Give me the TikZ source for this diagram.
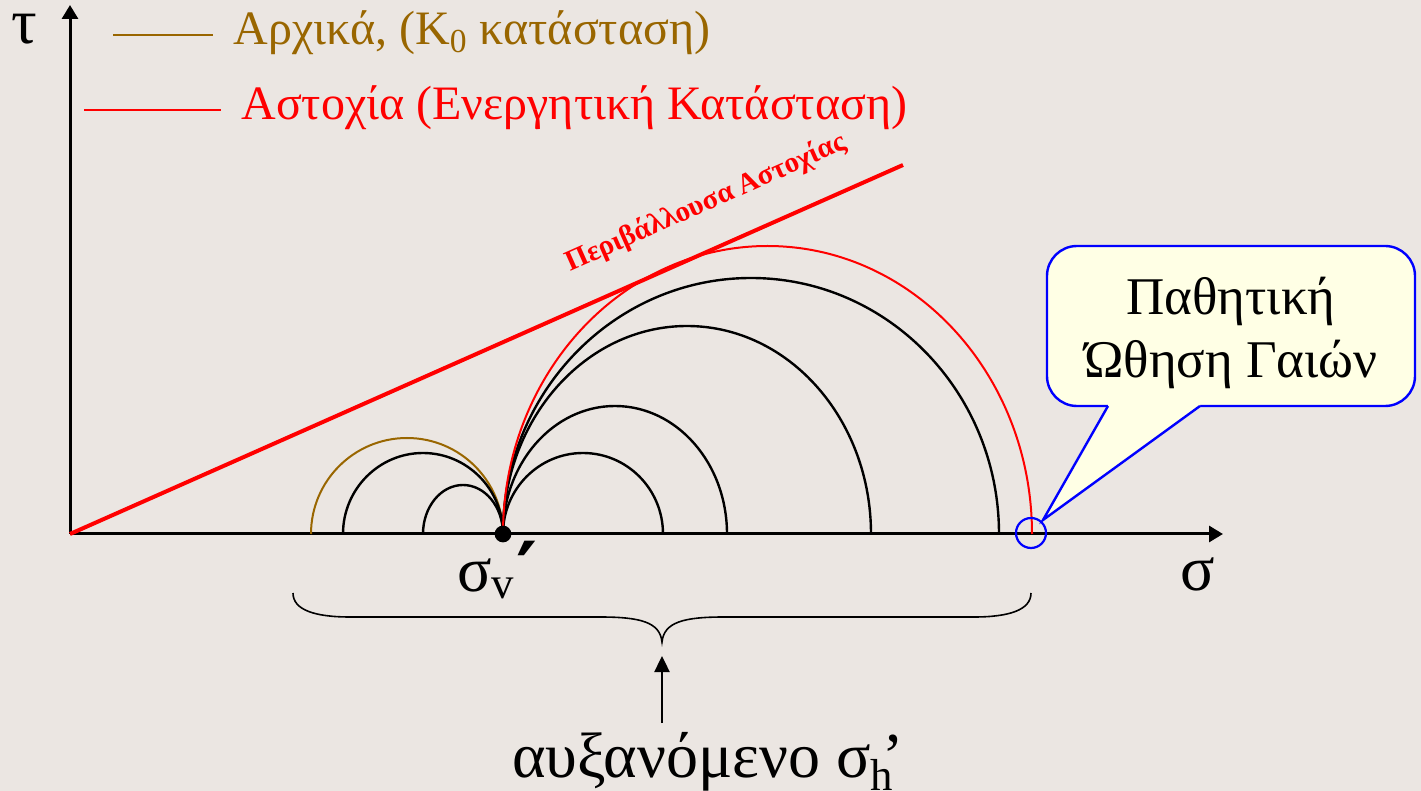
\documentclass[tikz,border=0pt]{standalone}
\usepackage{fontspec}
\setmainfont{Liberation Serif}
\newfontfamily\djv{DejaVu Sans}
\usetikzlibrary{arrows.meta}
\definecolor{bgc}{RGB}{235,230,226}
\definecolor{brn}{RGB}{153,102,0}
\definecolor{callfill}{RGB}{255,255,229}
\tikzset{
  axisline/.style={line width=1.5pt, -{Triangle[length=7pt,width=8pt]}},
  blackarc/.style={line width=1.2pt, black},
  redarc/.style={line width=1pt, red},
  brownarc/.style={line width=1pt, brn},
  legline/.style={line width=1pt},
  bigtxt/.style={font=\fontsize{32}{38}\selectfont},
  midtxt/.style={font=\fontsize{24}{29}\selectfont},
  calltxt/.style={font=\fontsize{26.5}{31}\selectfont},
  envtxt/.style={font=\fontsize{14.5}{17}\selectfont\bfseries, text=red},
  calloutbox/.style={draw=blue, fill=callfill, line width=1.2pt, rounded corners=15pt, rectangle, minimum width=184pt, minimum height=80pt, inner sep=0pt},
}
\begin{document}
\begin{tikzpicture}[x=0.5pt,y=-0.5pt]
\fill[bgc] (0,0) rectangle (1421,791);
\useasboundingbox (0,0) rectangle (1421,791);

% coordinates
\coordinate (O) at (70,534);
\coordinate (tauTip) at (70,5);
\coordinate (sigTip) at (1223,534);
\coordinate (envEnd) at (903,165);
\coordinate (V) at (503,534);

% axes
\draw[axisline] (O) -- (tauTip);
\draw[axisline] (O) -- (sigTip);

% envelope
\draw[red, line width=2pt] (O) -- (envEnd);

% left arcs (start at V, go left)
\draw[brownarc] (V) arc[start angle=0, end angle=180, x radius=48pt, y radius=48pt];
\draw[blackarc] (V) arc[start angle=0, end angle=180, x radius=40pt, y radius=40.5pt];
\draw[blackarc] (V) arc[start angle=0, end angle=180, x radius=20pt, y radius=24.5pt];

% right arcs (start at V, go right)
\draw[blackarc] (V) arc[start angle=180, end angle=0, x radius=40pt, y radius=40.5pt];
\draw[blackarc] (V) arc[start angle=180, end angle=0, x radius=56pt, y radius=64pt];
\draw[blackarc] (V) arc[start angle=180, end angle=0, x radius=92pt, y radius=104pt];
\draw[blackarc] (V) arc[start angle=180, end angle=0, x radius=124pt, y radius=128pt];
\draw[redarc] (V) arc[start angle=180, end angle=0, x radius=132.25pt, y radius=144pt];

% point sigma_v'
\fill[black] (V) circle[radius=4.2pt];

% envelope label
\node[envtxt, rotate=24] (envlbl) at (706,203) {Περιβάλλουσα Αστοχίας};

% legend
\coordinate (l1a) at (113,35);
\coordinate (l1b) at (213,35);
\draw[brn, legline] (l1a) -- (l1b);
\node[midtxt, text=brn, anchor=base west, inner sep=0pt] (leg1) at (233,45) {Αρχικά, (K\textsubscript{0} κατάσταση)};
\coordinate (l2a) at (84,110);
\coordinate (l2b) at (221,110);
\draw[red, legline] (l2a) -- (l2b);
\node[midtxt, text=red, anchor=base west, inner sep=0pt] (leg2) at (241,120) {Αστοχία (Ενεργητική Κατάσταση)};

% axis labels
\node[bigtxt, anchor=base, inner sep=0pt] (tau) at (24,44) {τ};
\node[bigtxt, anchor=base, inner sep=0pt] (sig) at (1198,590) {σ};

% sigma_v'
\node[bigtxt, anchor=base west, inner sep=0pt] (sv) at (457,591) {σ\textsubscript{v}};
\node[anchor=base west, inner sep=0pt, font=\fontsize{40}{44}\selectfont\djv\bfseries] (svp) at (516,599) {′};

% brace
\coordinate (brL) at (293,593);
\coordinate (brM) at (662,642);
\coordinate (brR) at (1031,593);
\draw[line width=0.8pt] (brL) .. controls (293,610) and (315,617) .. (350,617) -- (600,617)
   .. controls (640,617) and (660,622) .. (brM)
   .. controls (664,622) and (684,617) .. (724,617) -- (974,617)
   .. controls (1009,617) and (1031,610) .. (brR);

% increasing sigma_h'
\node[bigtxt, anchor=base west, inner sep=0pt] (inc) at (512,777) {αυξανόμενο σ\textsubscript{h}};
\node[bigtxt, anchor=base west, inner sep=0pt] (incp) at (882,777) {’};
\coordinate (arrBot) at (662,723);
\coordinate (arrTop) at (662,656);
\draw[line width=1.2pt, -{Triangle[length=8pt,width=7.5pt]}] (arrBot) -- (arrTop);

% callout
\node[calloutbox] (callbox) at (1231,326) {};
\coordinate (cA) at (1108,406);
\coordinate (cB) at (1200,406);
\coordinate (cTip) at (1043,520);
\fill[callfill] (cA) -- (cTip) -- (cB) -- (1200,401) -- (1108,401) -- cycle;
\draw[blue, line width=1.2pt, line join=miter] (cA) -- (cTip) -- (cB);
\node[calltxt, anchor=base, inner sep=0pt] (pas1) at (1231,315) {Παθητική};
\node[calltxt, anchor=base, inner sep=0pt] (pas2) at (1231,378) {Ώθηση Γαιών};
\coordinate (endPt) at (1031,533);
\draw[blue, line width=1.1pt] (endPt) circle[radius=7.5pt];
\end{tikzpicture}
\end{document}
